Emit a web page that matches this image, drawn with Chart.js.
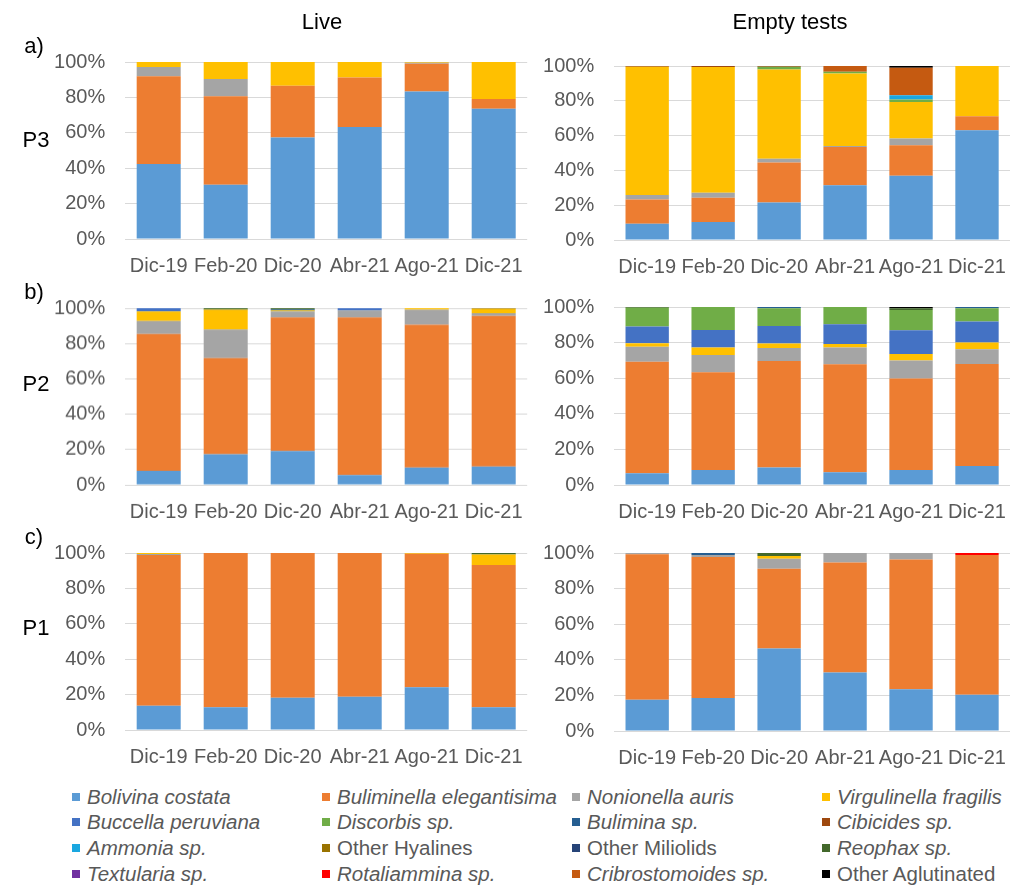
<!DOCTYPE html>
<html><head><meta charset="utf-8">
<script src="https://cdn.jsdelivr.net/npm/chart.js@4.4.1/dist/chart.umd.min.js"></script>
<style>
body{margin:0;background:#fff;width:1021px;height:888px;overflow:hidden;position:relative;font-family:"Liberation Sans",Arial,sans-serif;}
canvas{position:absolute;}
.lbl{position:absolute;font-size:22px;color:#000;transform:translate(-50%,-50%);white-space:nowrap;}
.leg{position:absolute;font-size:20.5px;color:#595959;white-space:nowrap;transform:translateY(-50%);}
.sw{position:absolute;width:8px;height:8px;transform:translateY(-50%);}
</style></head><body>
<div id="root"></div>
<script>
// ---- Data ----
const categories = ["Dic-19","Feb-20","Dic-20","Abr-21","Ago-21","Dic-21"];
const seriesNames = ["Bolivina costata","Buliminella elegantisima","Nonionella auris","Virgulinella fragilis",
  "Buccella peruviana","Discorbis sp.","Bulimina sp.","Cibicides sp.",
  "Ammonia sp.","Other Hyalines","Other Miliolids","Reophax sp.",
  "Textularia sp.","Rotaliammina sp.","Cribrostomoides sp.","Other Aglutinated"];
const yTickLabels = ["0%","20%","40%","60%","80%","100%"];

// Each row = one series (order of seriesNames), values per category (%)
const P3_live = [
  [42.4,30.7,57.4,63.3,83.4,73.6],
  [49.5,49.9,29.2,28.0,15.6,5.5],
  [5.3,9.8,0,0,0.6,0],
  [2.8,9.6,13.4,8.7,0.4,20.9],
  [0,0,0,0,0,0],[0,0,0,0,0,0],[0,0,0,0,0,0],[0,0,0,0,0,0],
  [0,0,0,0,0,0],[0,0,0,0,0,0],[0,0,0,0,0,0],[0,0,0,0,0,0],
  [0,0,0,0,0,0],[0,0,0,0,0,0],[0,0,0,0,0,0],[0,0,0,0,0,0]
];
const P3_empty = [
  [9.4,10.3,21.6,31.5,36.9,63.1],
  [13.9,14.0,23.0,22.0,17.6,8.0],
  [2.5,2.9,2.1,0.5,3.8,0],
  [73.8,72.2,51.3,41.7,21.0,28.9],
  [0,0,0,0,0,0],
  [0,0,1.5,1.0,1.4,0],
  [0,0,0,0,0,0],
  [0.4,0.6,0.5,0,0,0],
  [0,0,0,0,2.5,0],
  [0,0,0,0,0,0],[0,0,0,0,0,0],[0,0,0,0,0,0],
  [0,0,0,0,0,0],[0,0,0,0,0,0],
  [0,0,0,3.3,15.8,0],
  [0,0,0,0,1.0,0]
];
const P2_live = [
  [7.9,17.4,19.2,5.5,9.8,10.4],
  [77.4,54.3,75.5,89.2,80.8,85.2],
  [7.5,16.2,3.4,4.0,8.6,1.5],
  [5.3,11.3,0.6,0,0.8,2.5],
  [1.9,0,0,1.3,0,0],
  [0,0,0,0,0,0],
  [0,0,0.6,0,0,0],
  [0,0,0,0,0,0],
  [0,0,0,0,0,0],
  [0,0,0,0,0,0.4],
  [0,0,0,0,0,0],
  [0,0.8,0.7,0,0,0],
  [0,0,0,0,0,0],[0,0,0,0,0,0],[0,0,0,0,0,0],[0,0,0,0,0,0]
];
const P2_empty = [
  [6.6,8.4,9.7,7.1,8.4,10.7],
  [62.7,54.9,59.2,60.7,51.5,57.3],
  [8.4,9.7,7.3,9.5,10.0,8.2],
  [1.9,4.2,2.5,1.9,3.7,3.8],
  [9.4,9.9,9.7,11.1,13.3,11.8],
  [10.6,12.9,9.9,9.7,11.4,7.5],
  [0,0,0.7,0,0,0.7],
  [0,0,0,0,0,0],
  [0,0,0,0,0,0],[0,0,0,0,0,0],[0,0,0,0,0,0],
  [0.4,0,0,0,1.0,0],
  [0,0,0,0,0,0],[0,0,0,0,0,0],[0,0,0,0,0,0],
  [0,0,0,0,0.7,0]
];
const P1_live = [
  [13.7,12.8,18.2,18.8,24.1,12.8],
  [85.2,87.2,81.8,81.2,75.5,80.4],
  [0.5,0,0,0,0,0],
  [0.6,0,0,0,0.4,6.0],
  [0,0,0,0,0,0],[0,0,0,0,0,0],[0,0,0,0,0,0],[0,0,0,0,0,0],
  [0,0,0,0,0,0],[0,0,0,0,0,0],[0,0,0,0,0,0],
  [0,0,0,0,0,0.8],
  [0,0,0,0,0,0],[0,0,0,0,0,0],[0,0,0,0,0,0],[0,0,0,0,0,0]
];
const P1_empty = [
  [17.6,18.5,46.3,32.8,23.4,20.4],
  [81.7,79.3,44.9,61.8,73.0,78.5],
  [0.7,1.1,5.6,5.4,3.6,0],
  [0,0,1.5,0,0,0],
  [0,0,0,0,0,0],[0,0,0,0,0,0],
  [0,1.1,0,0,0,0],
  [0,0,0,0,0,0],[0,0,0,0,0,0],[0,0,0,0,0,0],[0,0,0,0,0,0],
  [0,0,1.7,0,0,0],
  [0,0,0,0,0,0],
  [0,0,0,0,0,1.1],
  [0,0,0,0,0,0],[0,0,0,0,0,0]
];

// ---- Styles ----
const colors = ["#5B9BD5","#ED7D31","#A5A5A5","#FFC000","#4472C4","#70AD47","#255E91","#9E480E",
  "#1AA7E0","#997300","#264478","#43682B","#7030A0","#FF0000","#C55A11","#000000"];
const italic = [true,true,true,true,true,true,true,true,true,false,false,true,true,true,true,false];
const FONT = "'Liberation Sans', Arial, sans-serif";
const root = document.getElementById('root');
const PADTOP = 36;

function addText(cls, txt, x, y, extra){
  const d = document.createElement('div');
  d.className = cls; d.textContent = txt;
  d.style.left = x+'px'; d.style.top = y+'px';
  if (extra) Object.assign(d.style, extra);
  root.appendChild(d);
}

function makePanel(table, left, T, B, width, yAxisW, padRight){
  const top = T - PADTOP, height = (B - T) + PADTOP + 40;
  const c = document.createElement('canvas');
  c.width = width; c.height = height;
  c.style.left = left+'px'; c.style.top = top+'px';
  c.style.width = width+'px'; c.style.height = height+'px';
  root.appendChild(c);
  const datasets = seriesNames.map((n,i)=>{
    const vals = table[i].map((v,k)=>{
      let s = 0; for (const row of table) s += row[k];
      return v/s*100;
    });
    return {label:n, data:vals, backgroundColor:colors[i], borderWidth:0,
      barPercentage:0.657, categoryPercentage:1};
  });
  new Chart(c, {
    type:'bar',
    data:{labels:categories, datasets},
    options:{
      responsive:false, animation:false, devicePixelRatio:1,
      layout:{padding:{top:PADTOP,right:padRight,left:0,bottom:0}},
      plugins:{legend:{display:false}, tooltip:{enabled:false}},
      scales:{
        x:{stacked:true, grid:{display:false, drawTicks:false}, border:{display:false},
           ticks:{color:'#595959', font:{size:20,family:FONT}, padding:15, maxRotation:0, minRotation:0, autoSkip:false},
           afterFit:s=>{s.height=40;}},
        y:{stacked:true, min:0, max:100,
           grid:{color:'#D9D9D9', lineWidth:1, drawTicks:false}, border:{display:false},
           ticks:{stepSize:20, color:'#595959', font:{size:20,family:FONT}, padding:20,
             callback:(v)=>yTickLabels[Math.round(v/20)]},
           afterFit:s=>{s.width=yAxisW;}}
      }
    }
  });
}

// Live column: chart area x 125.2 - 527.2 ; Empty column: 614.2 - 1019.8
makePanel(P3_live, 40, 62.3, 239.3, 500, 85.2, 12.8);
makePanel(P3_empty, 540, 65.7, 240, 481, 74.2, 1.2);
makePanel(P2_live, 40, 308.3, 485, 500, 85.2, 12.8);
makePanel(P2_empty, 540, 307, 485, 481, 74.2, 1.2);
makePanel(P1_live, 40, 552.7, 730, 500, 85.2, 12.8);
makePanel(P1_empty, 540, 552.7, 730.7, 481, 74.2, 1.2);

// titles and panel labels
addText('lbl','Live',322,22);
addText('lbl','Empty tests',790,22);
addText('lbl','a)',34,46);
addText('lbl','b)',34,292);
addText('lbl','c)',34,537);
addText('lbl','P3',36,140);
addText('lbl','P2',36,384);
addText('lbl','P1',36,628);

// legend
const colX = [72,322,572,822];
const rowY = [797,822,848,874];
seriesNames.forEach((n,i)=>{
  const r = Math.floor(i/4), cI = i%4;
  const sw = document.createElement('div');
  sw.className='sw'; sw.style.left = colX[cI]+'px'; sw.style.top = rowY[r]+'px';
  sw.style.background = colors[i];
  root.appendChild(sw);
  addText('leg', n, colX[cI]+15, rowY[r], {fontStyle: italic[i]?'italic':'normal'});
});
</script>
</body></html>
